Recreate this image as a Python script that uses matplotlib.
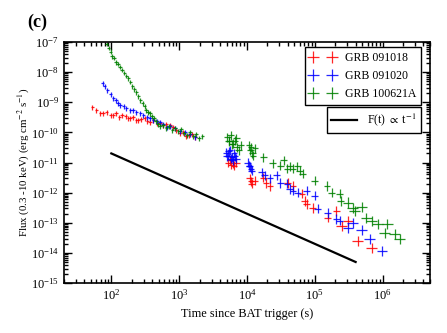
import numpy as np
import matplotlib
matplotlib.use("Agg")
import matplotlib.pyplot as plt
from matplotlib.ticker import LogLocator, NullFormatter

plt.rcParams['font.family'] = ['Liberation Serif', 'DejaVu Serif']
plt.rcParams['mathtext.fontset'] = 'stix'

# values, as log10(t [s]) and log10(flux [erg/cm2/s])
# GRB 091018
logt_red = [1.72, 1.78, 1.84, 1.88, 1.93, 1.99, 2.03, 2.07, 2.12, 2.16, 2.21, 2.25,
            2.28, 2.32, 2.37, 2.40, 2.44, 2.49, 2.53, 2.57, 2.62, 2.68, 2.72, 2.76,
            2.81, 2.87, 2.91, 2.96, 3.01, 3.06, 3.10, 3.15, 3.19, 3.24,
            3.72, 3.75, 3.77, 3.79, 3.81, 3.84, 4.04, 4.06, 4.07, 4.12, 4.24, 4.28,
            4.34, 4.60, 4.68, 4.81, 4.85, 4.88, 4.97, 5.19, 5.32, 5.40, 5.49, 5.63, 5.84]
logf_red = [-9.17, -9.27, -9.37, -9.37, -9.33, -9.43, -9.43, -9.37, -9.50, -9.43, -9.47, -9.53,
            -9.53, -9.50, -9.60, -9.60, -9.57, -9.53, -9.63, -9.67, -9.60, -9.70, -9.70, -9.77,
            -9.73, -9.77, -9.83, -9.93, -10.03, -10.00, -10.13, -10.10, -10.07, -10.17,
            -11.00, -10.93, -11.07, -11.03, -11.10, -11.00, -11.53, -11.63, -11.70, -11.60, -11.50, -11.67,
            -11.77, -11.67, -11.77, -12.03, -12.27, -12.37, -12.50, -12.83, -12.60, -13.10, -12.93, -13.60, -13.83]
# GRB 091020
logt_blue = [1.87, 1.90, 1.94, 1.99, 2.03, 2.07, 2.10, 2.13, 2.18, 2.22, 2.28, 2.32,
             2.37, 2.43, 2.47, 2.53, 2.57, 2.62, 2.68, 2.72, 2.76, 2.82, 2.87, 2.94,
             3.01, 3.09, 3.16, 3.24,
             3.69, 3.70, 3.72, 3.73, 3.75, 3.76, 3.78, 3.79, 3.81, 3.82, 3.84,
             4.01, 4.03, 4.04, 4.06, 4.07, 4.22, 4.26, 4.34,
             4.44, 4.49, 4.59, 4.63, 4.68, 4.75, 4.88, 5.00, 5.04, 5.19, 5.32, 5.37,
             5.49, 5.56, 5.69, 5.81, 5.99]
logf_blue = [-8.37, -8.47, -8.60, -8.73, -8.87, -8.93, -9.03, -9.10, -9.13, -9.20, -9.27, -9.27,
             -9.33, -9.37, -9.43, -9.50, -9.53, -9.60, -9.63, -9.67, -9.73, -9.83, -9.80, -9.87,
             -9.97, -10.00, -10.07, -10.17,
             -10.67, -10.80, -10.77, -10.63, -10.60, -10.87, -10.83, -10.93, -10.70, -10.80, -10.87,
             -11.00, -11.10, -11.13, -11.20, -11.27, -11.33, -11.43, -11.53,
             -11.43, -11.67, -11.70, -11.87, -11.93, -12.00, -11.93, -12.10, -12.53, -12.67, -12.87, -12.93,
             -13.17, -13.00, -13.23, -13.53, -13.93]
# GRB 100621A
logt_green = [1.90, 1.93, 1.96, 1.99, 2.01, 2.04, 2.07, 2.10, 2.13, 2.16, 2.19, 2.22,
              2.25, 2.28, 2.31, 2.34, 2.37, 2.40, 2.43, 2.46, 2.49, 2.51, 2.54, 2.57,
              2.60, 2.63, 2.66, 2.69, 2.72, 2.76, 2.81, 2.85, 2.90, 2.94, 2.99, 3.03,
              3.07, 3.12, 3.16, 3.21, 3.25, 3.29, 3.34,
              3.71, 3.73, 3.74, 3.76, 3.78, 3.79, 3.82, 3.84, 3.85, 3.88, 3.91,
              4.03, 4.05, 4.06, 4.08, 4.09, 4.12,
              4.24, 4.38, 4.49, 4.54, 4.59, 4.63, 4.68, 4.74, 4.78, 4.82, 5.00, 5.18,
              5.25, 5.37, 5.38, 5.49, 5.56, 5.59, 5.69, 5.76, 5.84, 5.93, 6.03, 6.07,
              6.18, 6.25]
logf_green = [-6.87, -7.07, -7.20, -7.33, -7.47, -7.53, -7.67, -7.73, -7.83, -7.93, -8.03, -8.13,
              -8.20, -8.33, -8.47, -8.57, -8.67, -8.80, -8.93, -9.03, -9.13, -9.27, -9.33, -9.37,
              -9.47, -9.53, -9.63, -9.73, -9.80, -9.77, -9.87, -9.80, -9.93, -9.87, -9.97, -9.90,
              -10.03, -10.10, -10.00, -10.13, -10.07, -10.20, -10.13,
              -10.17, -10.30, -10.27, -10.10, -10.40, -10.37, -10.27, -10.20, -10.50, -10.60, -10.43,
              -10.43, -10.60, -10.50, -10.70, -10.77, -10.53,
              -10.83, -11.03, -11.10, -10.93, -11.20, -11.13, -11.20, -11.13, -11.27, -11.37, -11.60, -11.77,
              -12.00, -12.03, -12.27, -12.33, -12.50, -12.60, -12.47, -12.83, -12.93, -13.03, -13.33, -13.03,
              -13.37, -13.53]

# F(t) ~ t^-1 reference line
t_ref = [1e2, 4e5]
f_ref = [2e-11, 5e-15]


def late_err(logt, small, big):
    # error bars grow in the sparse late-time part of the curve
    logt = np.asarray(logt)
    return np.where(logt < 3.5, small, np.where(logt < 5.4, small * 2, big))


def draw(ax, logt, logf, color, label):
    t = 10 ** np.asarray(logt)
    f = 10 ** np.asarray(logf)
    dx = late_err(logt, 0.025, 0.08)
    dy = late_err(logt, 0.08, 0.17)
    xerr = [t - t / 10 ** dx, t * 10 ** dx - t]
    yerr = [f - f / 10 ** dy, f * 10 ** dy - f]
    return ax.errorbar(t, f, xerr=xerr, yerr=yerr, fmt='none', ecolor=color,
                       elinewidth=0.9, alpha=0.85, label=label)


fig = plt.figure(figsize=(4.47, 3.33), dpi=100)
ax = fig.add_axes([0.143, 0.150, 0.819, 0.724])

h1 = draw(ax, logt_red, logf_red, 'red', 'GRB 091018')
h2 = draw(ax, logt_blue, logf_blue, 'blue', 'GRB 091020')
h3 = draw(ax, logt_green, logf_green, 'green', 'GRB 100621A')
ln, = ax.plot(t_ref, f_ref, color='black', lw=1.6, label=r'F(t) $\propto$ t$^{-1}$')

ax.set_xscale('log')
ax.set_yscale('log')
ax.set_xlim(20, 5e6)
ax.set_ylim(1e-15, 1e-7)
ax.xaxis.set_major_locator(LogLocator(base=10, numticks=20))
ax.yaxis.set_major_locator(LogLocator(base=10, numticks=20))
ax.xaxis.set_minor_locator(LogLocator(base=10, subs=np.arange(2, 10), numticks=20))
ax.yaxis.set_minor_locator(LogLocator(base=10, subs=np.arange(2, 10), numticks=20))
ax.xaxis.set_minor_formatter(NullFormatter())
ax.yaxis.set_minor_formatter(NullFormatter())
ax.tick_params(which='both', direction='in', top=True, right=True, labelsize=9, width=1)
ax.tick_params(which='major', length=6)
ax.tick_params(which='minor', length=3)
for s in ax.spines.values():
    s.set_linewidth(1.2)

ax.set_xlabel('Time since BAT trigger (s)', fontsize=8.8)
ax.set_ylabel(r'Flux (0.3 -10 keV) (erg cm$^{-2}$ s$^{-1}$)', fontsize=7.8)
ax.yaxis.set_label_coords(-0.09, 0.5)
fig.text(0.06, 0.92, '(c)', fontsize=13, fontweight='bold')

leg1 = ax.legend(handles=[h1, h2, h3], loc='upper right', bbox_to_anchor=(0.975, 0.978),
                 numpoints=2, fontsize=8.5, fancybox=False, edgecolor='black',
                 framealpha=1, borderaxespad=0, handlelength=2.2)
leg1.get_frame().set_linewidth(1)
ax.add_artist(leg1)
leg2 = ax.legend(handles=[ln], loc='upper right', bbox_to_anchor=(0.975, 0.73),
                 fontsize=8.5, fancybox=False, edgecolor='black', framealpha=1,
                 borderaxespad=0, handlelength=2.2)
leg2.get_frame().set_linewidth(1)

fig.savefig('out.png', dpi=100)
